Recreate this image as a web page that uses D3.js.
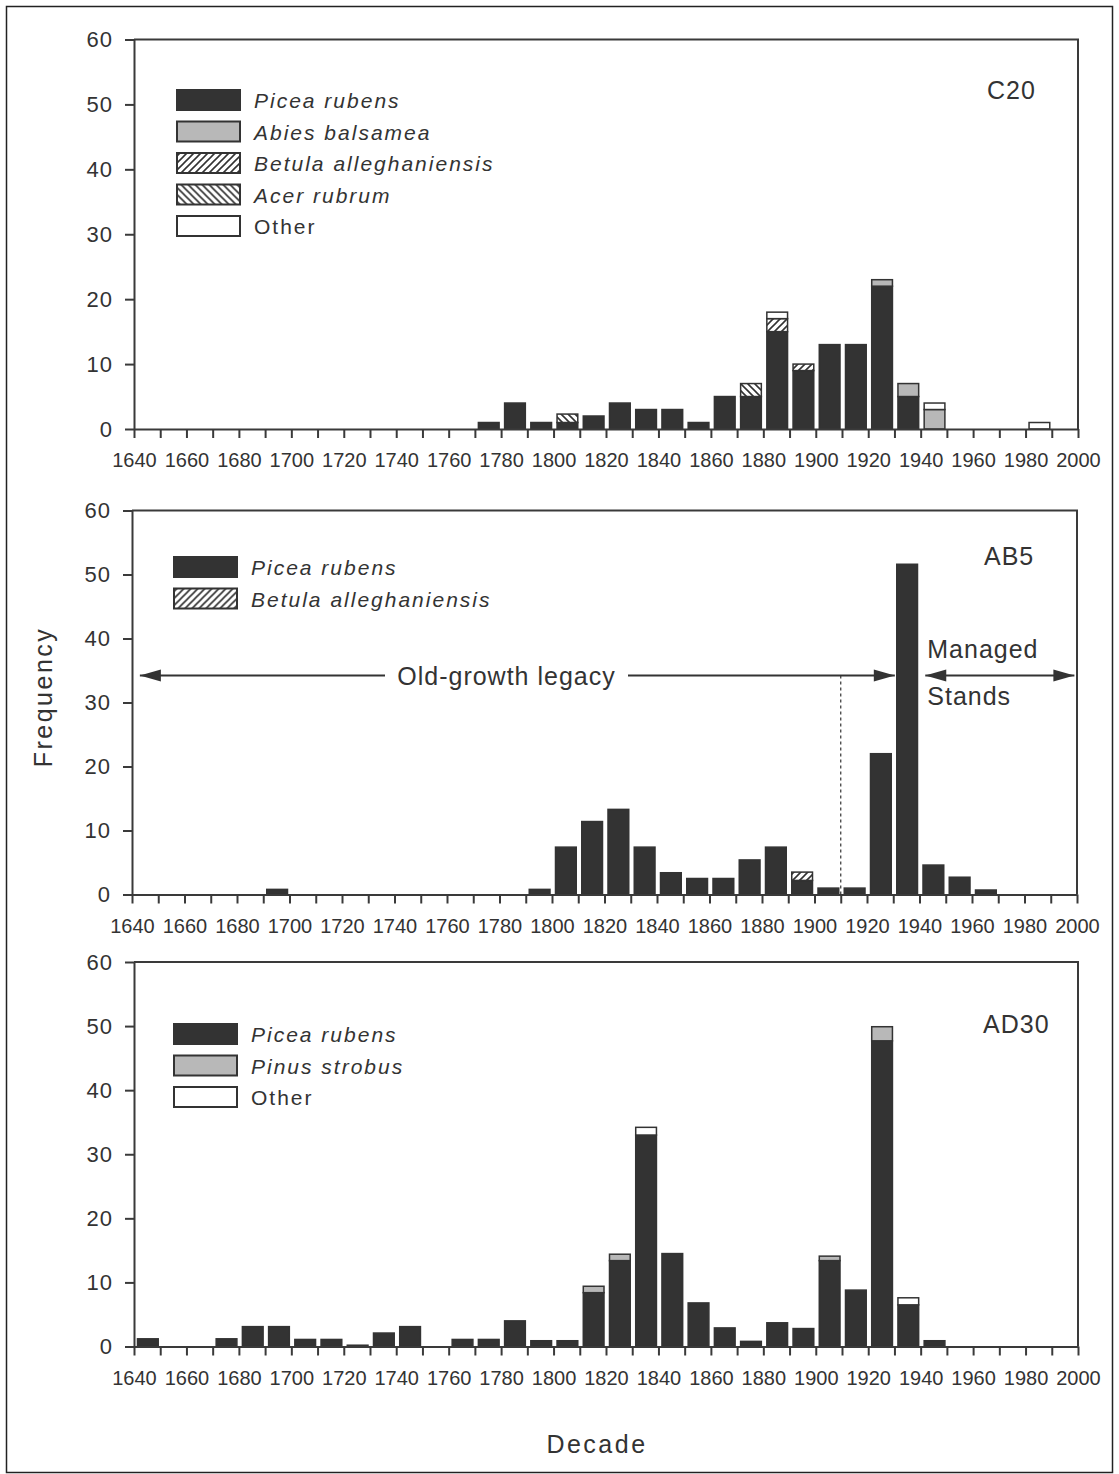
<!DOCTYPE html>
<html>
<head>
<meta charset="utf-8">
<script src="https://cdn.jsdelivr.net/npm/d3@7"></script>
<style>
  body { margin: 0; background: #fff; }
  svg { display: block; font-family: "Liberation Sans", Arial, sans-serif; }
  .axis path, .axis line { stroke: #3a3a3a; stroke-width: 2; }
  .axis text { fill: #333; }
  .legend-text { font-style: italic; letter-spacing: 2px; font-size: 21px; fill: #333; }
</style>
</head>
<body>
<svg id="chart" width="1119" height="1474"></svg>
<script>
// ---- data ----
var yTicks = [0, 10, 20, 30, 40, 50, 60];
var decadeTicks = d3.range(1640, 2001, 10);

// C20
var c20Decades = [1770,1780,1790,1800,1810,1820,1830,1840,1850,1860,1870,1880,1890,1900,1910,1920,1930,1940,1980];
var c20Picea   = [1,4,1,1,2,4,3,3,1,5,5,15,9,13,13,22,5,0,0];
var c20Abies   = [0,0,0,0,0,0,0,0,0,0,0,0,0,0,0,1,2,3,0];
var c20Betula  = [0,0,0,0,0,0,0,0,0,0,0,2,1,0,0,0,0,0,0];
var c20Acer    = [0,0,0,1.3,0,0,0,0,0,0,2,0,0,0,0,0,0,0,0];
var c20Other   = [0,0,0,0,0,0,0,0,0,0,0,1,0,0,0,0,0,1,1];

// AB5
var ab5Decades = [1690,1790,1800,1810,1820,1830,1840,1850,1860,1870,1880,1890,1900,1910,1920,1930,1940,1950,1960];
var ab5Picea   = [0.8,0.8,7.4,11.4,13.3,7.4,3.4,2.5,2.5,5.4,7.4,2.2,1,1,22,51.6,4.6,2.7,0.7];
var ab5Betula  = [0,0,0,0,0,0,0,0,0,0,0,1.3,0,0,0,0,0,0,0];

// AD30
var ad30Decades = [1640,1670,1680,1690,1700,1710,1720,1730,1740,1760,1770,1780,1790,1800,1810,1820,1830,1840,1850,1860,1870,1880,1890,1900,1910,1920,1930,1940];
var ad30Picea   = [1.2,1.2,3.1,3.1,1.1,1.1,0.2,2.1,3.1,1.1,1.1,4,0.9,0.9,8.4,13.4,33,14.5,6.8,2.9,0.8,3.7,2.8,13.4,8.8,47.7,6.5,0.9];
var ad30Pinus   = [0,0,0,0,0,0,0,0,0,0,0,0,0,0,1,1,0,0,0,0,0,0,0,0.7,0,2.2,0,0];
var ad30Other   = [0,0,0,0,0,0,0,0,0,0,0,0,0,0,0,0,1.2,0,0,0,0,0,0,0,0,0,1.1,0];

// annotation values for AB5 (years / frequency)
var oldGrowthSpan = [1643, 1930.6];
var managedSpan = [1942.2, 1999];
var arrowLevel = 34.2;
var dividerYear = 1910;

// ---- styles per species ----
var DARK = "#333333";
var styles = {
    picea:  {label: "Picea rubens", fill: DARK},
    abies:  {label: "Abies balsamea", fill: "#b8b8b8"},
    pinus:  {label: "Pinus strobus", fill: "#b8b8b8"},
    betula: {label: "Betula alleghaniensis", fill: "url(#hatchFwd)"},
    acer:   {label: "Acer rubrum", fill: "url(#hatchBack)"},
    other:  {label: "Other", fill: "#ffffff", plain: true}
};

var svg = d3.select("#chart");

// hatch patterns
var defs = svg.append("defs");
function hatch(id, d) {
    var p = defs.append("pattern").attr("id", id)
        .attr("patternUnits", "userSpaceOnUse").attr("width", 7).attr("height", 7);
    p.append("rect").attr("width", 7).attr("height", 7).attr("fill", "#fff");
    p.append("path").attr("d", d).attr("stroke", DARK).attr("stroke-width", 1.6);
}
hatch("hatchFwd", "M-1,8 L8,-1 M-4,4 L4,-4 M3,11 L11,3");
hatch("hatchBack", "M-1,-1 L8,8 M-4,3 L4,11 M3,-4 L11,4");

// figure frame
svg.append("rect").attr("x", 6.5).attr("y", 6.5).attr("width", 1106).attr("height", 1466)
    .attr("fill", "none").attr("stroke", "#222").attr("stroke-width", 1.5);

var panels = [
    {id: "C20", left: 134, right: 1078, top: 39.5, bottom: 429,
     decades: c20Decades, keys: ["picea","abies","betula","acer","other"],
     series: {picea: c20Picea, abies: c20Abies, betula: c20Betula, acer: c20Acer, other: c20Other},
     legendX: 177, legendY: 100, labelX: 987, labelY: 99},
    {id: "AB5", left: 132, right: 1077, top: 510.5, bottom: 894.5,
     decades: ab5Decades, keys: ["picea","betula"],
     series: {picea: ab5Picea, betula: ab5Betula},
     legendX: 174, legendY: 567, labelX: 984, labelY: 565},
    {id: "AD30", left: 134, right: 1078, top: 962, bottom: 1346.5,
     decades: ad30Decades, keys: ["picea","pinus","other"],
     series: {picea: ad30Picea, pinus: ad30Pinus, other: ad30Other},
     legendX: 174, legendY: 1034, labelX: 983, labelY: 1033}
];

panels.forEach(function(p) {
    var x = d3.scaleLinear().domain([1640, 2000]).range([p.left, p.right]);
    var y = d3.scaleLinear().domain([0, 60]).range([p.bottom, p.top]);
    var g = svg.append("g").attr("class", "panel-" + p.id);

    // rows for stacking
    var rows = p.decades.map(function(d, i) {
        var r = {decade: d};
        p.keys.forEach(function(k) { r[k] = p.series[k][i]; });
        return r;
    });
    var stacked = d3.stack().keys(p.keys)(rows);

    stacked.forEach(function(layer) {
        g.append("g").selectAll("rect")
            .data(layer.filter(function(s) { return s[1] - s[0] > 0; }))
            .join("rect")
            .attr("x", function(s) { return x(s.data.decade) + 3.5; })
            .attr("width", function(s) { return x(s.data.decade + 10) - x(s.data.decade) - 5.5; })
            .attr("y", function(s) { return y(s[1]); })
            .attr("height", function(s) { return y(s[0]) - y(s[1]); })
            .attr("fill", styles[layer.key].fill)
            .attr("stroke", DARK)
            .attr("stroke-width", 1.5);
    });

    // box top + right
    g.append("path")
        .attr("d", "M" + x(1640) + "," + y(60) + "H" + x(2000) + "V" + y(0))
        .attr("fill", "none").attr("stroke", "#3a3a3a").attr("stroke-width", 2);

    // axes
    g.append("g").attr("class", "axis")
        .attr("transform", "translate(0," + y(0) + ")")
        .call(d3.axisBottom(x).tickValues(decadeTicks).tickSize(9).tickPadding(15)
            .tickSizeOuter(0)
            .tickFormat(function(d) { return d % 20 === 0 ? d : ""; }))
        .selectAll("text").attr("font-size", 20);

    g.append("g").attr("class", "axis")
        .attr("transform", "translate(" + x(1640) + ",0)")
        .call(d3.axisLeft(y).tickValues(yTicks).tickSize(9).tickPadding(12).tickSizeOuter(0))
        .selectAll("text").attr("font-size", 22).attr("letter-spacing", 1);

    g.selectAll(".axis .domain").attr("stroke-width", 2);

    // legend
    var leg = g.append("g").selectAll("g").data(p.keys).join("g")
        .attr("transform", function(k, i) { return "translate(" + p.legendX + "," + (p.legendY + i * 31.5) + ")"; });
    leg.append("rect")
        .attr("x", 0).attr("y", -10).attr("width", 63).attr("height", 20)
        .attr("fill", function(k) { return styles[k].fill; })
        .attr("stroke", DARK).attr("stroke-width", 2);
    leg.append("text")
        .attr("class", "legend-text")
        .attr("x", 77).attr("y", 8)
        .style("font-style", function(k) { return styles[k].plain ? "normal" : "italic"; })
        .text(function(k) { return styles[k].label; });

    // site label
    g.append("text").attr("x", p.labelX).attr("y", p.labelY)
        .attr("font-size", 25).attr("fill", "#333").attr("letter-spacing", 1)
        .text(p.id);

    if (p.id === "AB5") {
        var ay = y(arrowLevel);
        var ann = g.append("g").attr("class", "annotation");
        function arrowHead(tipX, dir) {
            ann.append("path")
                .attr("d", "M" + tipX + "," + ay + "L" + (tipX - dir * 21) + "," + (ay - 6) + "L" + (tipX - dir * 21) + "," + (ay + 6) + "Z")
                .attr("fill", "#333");
        }
        var textL = 385, textR = 628;
        ann.append("line").attr("x1", x(oldGrowthSpan[0])).attr("x2", textL)
            .attr("y1", ay).attr("y2", ay).attr("stroke", "#333").attr("stroke-width", 2);
        ann.append("line").attr("x1", textR).attr("x2", x(oldGrowthSpan[1]))
            .attr("y1", ay).attr("y2", ay).attr("stroke", "#333").attr("stroke-width", 2);
        arrowHead(x(oldGrowthSpan[0]), -1);
        arrowHead(x(oldGrowthSpan[1]), 1);
        ann.append("text").attr("x", (textL + textR) / 2).attr("y", ay + 9)
            .attr("text-anchor", "middle").attr("font-size", 25).attr("letter-spacing", 1)
            .attr("fill", "#333").text("Old-growth legacy");

        ann.append("line").attr("x1", x(managedSpan[0])).attr("x2", x(managedSpan[1]))
            .attr("y1", ay).attr("y2", ay).attr("stroke", "#333").attr("stroke-width", 2);
        arrowHead(x(managedSpan[0]), -1);
        arrowHead(x(managedSpan[1]), 1);
        ann.append("text").attr("x", x(managedSpan[0]) + 2).attr("y", ay - 18)
            .attr("font-size", 25).attr("letter-spacing", 1).attr("fill", "#333").text("Managed");
        ann.append("text").attr("x", x(managedSpan[0]) + 2).attr("y", ay + 29)
            .attr("font-size", 25).attr("letter-spacing", 1).attr("fill", "#333").text("Stands");

        ann.append("line").attr("x1", x(dividerYear)).attr("x2", x(dividerYear))
            .attr("y1", ay).attr("y2", y(0))
            .attr("stroke", "#333").attr("stroke-width", 1.2).attr("stroke-dasharray", "3,3");
    }
});

// shared axis titles
svg.append("text")
    .attr("transform", "translate(52,697) rotate(-90)")
    .attr("text-anchor", "middle").attr("font-size", 25).attr("letter-spacing", 2.5)
    .attr("fill", "#333").text("Frequency");
svg.append("text")
    .attr("x", 597).attr("y", 1453)
    .attr("text-anchor", "middle").attr("font-size", 25).attr("letter-spacing", 2.5)
    .attr("fill", "#333").text("Decade");
</script>
</body>
</html>
